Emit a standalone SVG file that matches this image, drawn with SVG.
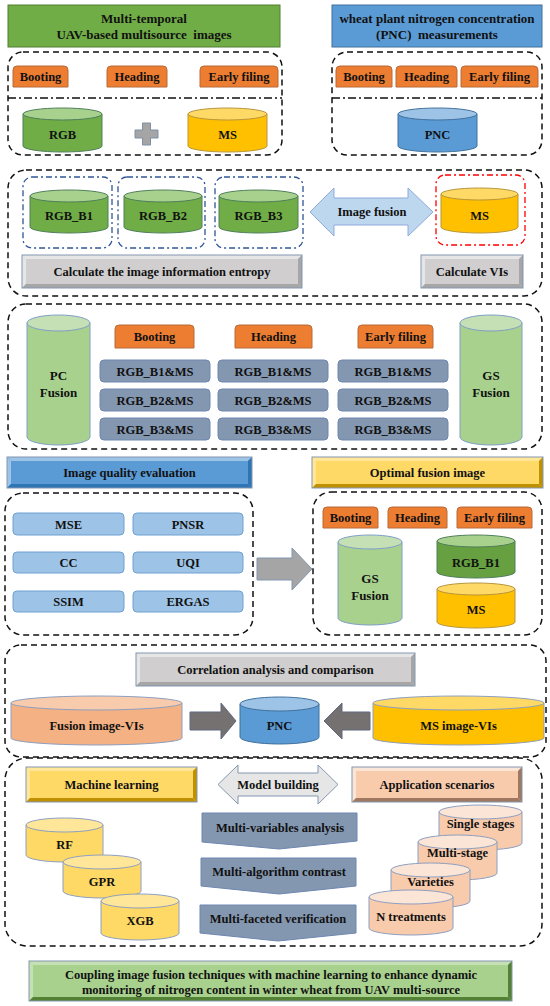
<svg xmlns="http://www.w3.org/2000/svg" width="550" height="1006" viewBox="0 0 550 1006">
<style>
text{font-family:"Liberation Serif","Times New Roman",serif;font-weight:bold;font-size:12.5px;fill:#111;text-anchor:middle}
.t13{font-size:13px}
.pre{white-space:pre}
.dash{fill:none;stroke:#111;stroke-width:1.5;stroke-dasharray:6 4}
.dd{fill:none;stroke:#111;stroke-width:1.5;stroke-dasharray:8 3 2 3}
.bdd{fill:none;stroke:#2F5597;stroke-width:1.3;stroke-dasharray:6 3 2 3}
.rdd{fill:none;stroke:#FF0000;stroke-width:1.3;stroke-dasharray:6 3 2 3}
.org{fill:#ED7D31;stroke:#B86A3A;stroke-width:1}
.stl{fill:#8497B0;stroke:#6E86B0;stroke-width:1}
.met{fill:#9DC3E6;stroke:#6FA0D2;stroke-width:1}
.gB{fill:#70AD47;stroke:#4F7F5A;stroke-width:1}
.gT{fill:#A9D18E;stroke:#4F7F5A;stroke-width:1}
.yB{fill:#FFC000;stroke:#B8963A;stroke-width:1}
.yT{fill:#FFD966;stroke:#B8963A;stroke-width:1}
.bB{fill:#5B9BD5;stroke:#41719C;stroke-width:1}
.bT{fill:#9DC3E6;stroke:#41719C;stroke-width:1}
.lgB{fill:#A9D18E;stroke:#7F9FC8;stroke-width:1}
.lgT{fill:#C5E0B4;stroke:#7F9FC8;stroke-width:1}
.pB{fill:#F8CBAD;stroke:#8E9FC0;stroke-width:1}
.pT{fill:#FBE5D6;stroke:#8E9FC0;stroke-width:1}
.oB{fill:#F4B183;stroke:#8E9FC0;stroke-width:1}
.oT{fill:#F8CBAD;stroke:#8E9FC0;stroke-width:1}
.lyB{fill:#FFD966;stroke:#8E9FC0;stroke-width:1}
.lyT{fill:#FFE699;stroke:#8E9FC0;stroke-width:1}
.gray .m{fill:#D0CECE}.gray .l{fill:#E7E6E6}.gray .d{fill:#A6A6A6}
.blue .m{fill:#5B9BD5}.blue .l{fill:#9DC3E6}.blue .d{fill:#2E75B6}
.yel .m{fill:#FFD966}.yel .l{fill:#FFE699}.yel .d{fill:#BF9000}
.pch .m{fill:#F8CBAD}.pch .l{fill:#FBE5D6}.pch .d{fill:#A0785F}
.grn .m{fill:#A9D18E}.grn .l{fill:#C5E0B4}.grn .d{fill:#548235}
.bev .o{fill:none;stroke:#8497B0;stroke-width:1}
.darr{fill:#767171;stroke:#5F6B80;stroke-width:1}
</style>

<!-- Titles -->
<g id="title-uav">
<rect x="8" y="5" width="272" height="42" fill="#70AD47" stroke="#507E32"/>
<text class="t13" x="144" y="23">Multi-temporal</text>
<text class="t13 pre" x="144" y="39">UAV-based multisource  images</text>
</g>
<g id="title-pnc">
<rect x="332" y="5" width="210" height="42" fill="#5B9BD5" stroke="#41719C"/>
<text class="t13" x="437" y="23">wheat plant nitrogen concentration</text>
<text class="t13 pre" x="437" y="39">(PNC)  measurements</text>
</g>

<!-- Top left group -->
<g id="uav-stages">
<rect class="dash" x="8" y="52" width="274" height="103" rx="15"/>
<line class="dd" x1="8" y1="98" x2="282" y2="98"/>
<path class="org" d="M13,87 V70 Q13,66 17,66 H64 Q68,66 68,70 V87 Z"/>
<text x="40.5" y="81">Booting</text>
<path class="org" d="M107,87 V70 Q107,66 111,66 H163 Q167,66 167,70 V87 Z"/>
<text x="137" y="81">Heading</text>
<path class="org" d="M200,87 V70 Q200,66 204,66 H274 Q278,66 278,70 V87 Z"/>
<text x="239" y="81">Early filing</text>
</g>
<g id="rgb">
<path class="gB" d="M23,114 V146 A39.5,6 0 0 0 102,146 V114 Z"/>
<ellipse class="gT" cx="62.5" cy="114" rx="39.5" ry="6"/>
<text x="62.5" y="139">RGB</text>
</g>
<g id="plus">
<polygon points="142.5,123 150.5,123 150.5,130 158,130 158,138 150.5,138 150.5,145 142.5,145 142.5,138 135,138 135,130 142.5,130" fill="#A5A5A5" stroke="#7F8FA9"/>
</g>
<g id="ms">
<path class="yB" d="M188,114 V146 A39.5,6 0 0 0 267,146 V114 Z"/>
<ellipse class="yT" cx="227.5" cy="114" rx="39.5" ry="6"/>
<text x="227.5" y="139">MS</text>
</g>

<!-- Top right group -->
<g id="pnc-stages">
<rect class="dash" x="332" y="52" width="210" height="103" rx="15"/>
<line class="dd" x1="332" y1="98" x2="542" y2="98"/>
<path class="org" d="M336,87 V70 Q336,66 340,66 H388 Q392,66 392,70 V87 Z"/>
<text x="364" y="81">Booting</text>
<path class="org" d="M396,87 V70 Q396,66 400,66 H453 Q457,66 457,70 V87 Z"/>
<text x="426.5" y="81">Heading</text>
<path class="org" d="M461,87 V70 Q461,66 465,66 H534 Q538,66 538,70 V87 Z"/>
<text x="499.5" y="81">Early filing</text>
</g>
<g id="pnc">
<path class="bB" d="M398,114 V146 A39.5,6 0 0 0 477,146 V114 Z"/>
<ellipse class="bT" cx="437.5" cy="114" rx="39.5" ry="6"/>
<text x="437.5" y="139">PNC</text>
</g>

<!-- Section 2 -->
<g id="sec2">
<rect class="dash" x="8" y="170" width="534" height="126" rx="18"/>
</g>
<g id="rgb-b1">
<rect class="bdd" x="23" y="177" width="89" height="71" rx="9"/>
<path class="gB" d="M30,196 V227 A39,6 0 0 0 108,227 V196 Z"/>
<ellipse class="gT" cx="69" cy="196" rx="39" ry="6"/>
<text x="69" y="220">RGB_B1</text>
</g>
<g id="rgb-b2">
<rect class="bdd" x="118" y="177" width="87" height="71" rx="9"/>
<path class="gB" d="M124,196 V227 A39,6 0 0 0 202,227 V196 Z"/>
<ellipse class="gT" cx="163" cy="196" rx="39" ry="6"/>
<text x="163" y="220">RGB_B2</text>
</g>
<g id="rgb-b3">
<rect class="bdd" x="215" y="177" width="88" height="71" rx="9"/>
<path class="gB" d="M219,196 V227 A39.5,6 0 0 0 298,227 V196 Z"/>
<ellipse class="gT" cx="258.5" cy="196" rx="39.5" ry="6"/>
<text x="258.5" y="220">RGB_B3</text>
</g>
<g id="image-fusion">
<polygon points="310,212 334,188 334,198 408,198 408,188 433,212 408,236 408,225 334,225 334,236" fill="#BDD7EE" stroke="#8FAADC"/>
<text x="372" y="216">Image fusion</text>
</g>
<g id="ms2">
<rect class="rdd" x="436" y="175" width="89" height="70" rx="9"/>
<path class="yB" d="M441,194 V227 A38.5,6 0 0 0 518,227 V194 Z"/>
<ellipse class="yT" cx="479.5" cy="194" rx="38.5" ry="6"/>
<text x="479.5" y="220">MS</text>
</g>
<g id="calc-entropy" class="bev gray">
<rect class="m" x="22" y="255" width="280" height="33"/>
<polygon class="l" points="22,255 302,255 298,259 26,259"/>
<polygon class="l" points="22,255 26,259 26,284 22,288"/>
<polygon class="d" points="22,288 26,284 298,284 302,288"/>
<polygon class="d" points="302,255 302,288 298,284 298,259"/>
<rect class="o" x="22" y="255" width="280" height="33"/>
<text x="162" y="276">Calculate the image information entropy</text>
</g>
<g id="calc-vis" class="bev gray">
<rect class="m" x="421" y="255" width="102" height="33"/>
<polygon class="l" points="421,255 523,255 519,259 425,259"/>
<polygon class="l" points="421,255 425,259 425,284 421,288"/>
<polygon class="d" points="421,288 425,284 519,284 523,288"/>
<polygon class="d" points="523,255 523,288 519,284 519,259"/>
<rect class="o" x="421" y="255" width="102" height="33"/>
<text x="472" y="276">Calculate VIs</text>
</g>

<!-- Section 3 -->
<g id="sec3">
<rect class="dash" x="8" y="304" width="534" height="145" rx="18"/>
</g>
<g id="pc-fusion">
<path class="lgB" d="M27,323 V437 A31.5,8 0 0 0 90,437 V323 Z"/>
<ellipse class="lgT" cx="58.5" cy="323" rx="31.5" ry="8"/>
<text class="t13" x="58.5" y="380">PC</text>
<text class="t13" x="58.5" y="397">Fusion</text>
</g>
<g id="gs-fusion">
<path class="lgB" d="M460,323 V437 A31,8 0 0 0 522,437 V323 Z"/>
<ellipse class="lgT" cx="491" cy="323" rx="31" ry="8"/>
<text class="t13" x="491" y="380">GS</text>
<text class="t13" x="491" y="397">Fusion</text>
</g>
<g id="combo-booting">
<path class="org" d="M115,348 V329 Q115,325 119,325 H190 Q194,325 194,329 V348 Z"/>
<text x="154.5" y="341">Booting</text>
<rect class="stl" x="100" y="360" width="110" height="22" rx="4"/>
<text x="155" y="375.5">RGB_B1&amp;MS</text>
<rect class="stl" x="100" y="389" width="110" height="22" rx="4"/>
<text x="155" y="404.5">RGB_B2&amp;MS</text>
<rect class="stl" x="100" y="418" width="110" height="22" rx="4"/>
<text x="155" y="433.5">RGB_B3&amp;MS</text>
</g>
<g id="combo-heading">
<path class="org" d="M235,348 V329 Q235,325 239,325 H308 Q312,325 312,329 V348 Z"/>
<text x="273.5" y="341">Heading</text>
<rect class="stl" x="218" y="360" width="110" height="22" rx="4"/>
<text x="273" y="375.5">RGB_B1&amp;MS</text>
<rect class="stl" x="218" y="389" width="110" height="22" rx="4"/>
<text x="273" y="404.5">RGB_B2&amp;MS</text>
<rect class="stl" x="218" y="418" width="110" height="22" rx="4"/>
<text x="273" y="433.5">RGB_B3&amp;MS</text>
</g>
<g id="combo-early">
<path class="org" d="M358,348 V329 Q358,325 362,325 H429 Q433,325 433,329 V348 Z"/>
<text x="395.5" y="341">Early filing</text>
<rect class="stl" x="338" y="360" width="110" height="22" rx="4"/>
<text x="393" y="375.5">RGB_B1&amp;MS</text>
<rect class="stl" x="338" y="389" width="110" height="22" rx="4"/>
<text x="393" y="404.5">RGB_B2&amp;MS</text>
<rect class="stl" x="338" y="418" width="110" height="22" rx="4"/>
<text x="393" y="433.5">RGB_B3&amp;MS</text>
</g>

<!-- Section 4 -->
<g id="quality-eval" class="bev blue">
<rect class="m" x="7" y="457" width="245" height="31"/>
<polygon class="l" points="7,457 252,457 248,461 11,461"/>
<polygon class="l" points="7,457 11,461 11,484 7,488"/>
<polygon class="d" points="7,488 11,484 248,484 252,488"/>
<polygon class="d" points="252,457 252,488 248,484 248,461"/>
<rect class="o" x="7" y="457" width="245" height="31"/>
<text x="129.5" y="477">Image quality evaluation</text>
</g>
<g id="optimal" class="bev yel">
<rect class="m" x="312" y="457" width="231" height="31"/>
<polygon class="l" points="312,457 543,457 539,461 316,461"/>
<polygon class="l" points="312,457 316,461 316,484 312,488"/>
<polygon class="d" points="312,488 316,484 539,484 543,488"/>
<polygon class="d" points="543,457 543,488 539,484 539,461"/>
<rect class="o" x="312" y="457" width="231" height="31"/>
<text x="427.5" y="477">Optimal fusion image</text>
</g>
<g id="metrics">
<rect class="dash" x="5" y="493" width="248" height="142" rx="18"/>
<rect class="met" x="13" y="513" width="111" height="22" rx="4"/>
<text x="68.5" y="528.5">MSE</text>
<rect class="met" x="133" y="513" width="110" height="22" rx="4"/>
<text x="188" y="528.5">PNSR</text>
<rect class="met" x="13" y="552" width="111" height="21" rx="4"/>
<text x="68.5" y="567">CC</text>
<rect class="met" x="133" y="552" width="110" height="21" rx="4"/>
<text x="188" y="567">UQI</text>
<rect class="met" x="13" y="591" width="111" height="21" rx="4"/>
<text x="68.5" y="606">SSIM</text>
<rect class="met" x="133" y="591" width="110" height="21" rx="4"/>
<text x="188" y="606">ERGAS</text>
</g>
<g id="optimal-set">
<rect class="dash" x="313" y="492" width="229" height="143" rx="18"/>
<path class="org" d="M323,528 V511 Q323,507 327,507 H374 Q378,507 378,511 V528 Z"/>
<text x="350.5" y="522">Booting</text>
<path class="org" d="M388,528 V511 Q388,507 392,507 H443 Q447,507 447,511 V528 Z"/>
<text x="417.5" y="522">Heading</text>
<path class="org" d="M457,528 V511 Q457,507 461,507 H528 Q532,507 532,511 V528 Z"/>
<text x="494.5" y="522">Early filing</text>
<path class="lgB" d="M338,542 V618 A32,7 0 0 0 402,618 V542 Z"/>
<ellipse class="lgT" cx="370" cy="542" rx="32" ry="7"/>
<text class="t13" x="370" y="583">GS</text>
<text class="t13" x="370" y="600">Fusion</text>
<path class="gB" d="M437,541 V572 A39,6 0 0 0 515,572 V541 Z" style="fill:#66A040"/>
<ellipse class="gT" cx="476" cy="541" rx="39" ry="6"/>
<text x="476" y="567">RGB_B1</text>
<path class="yB" d="M437,589 V622 A39,6 0 0 0 515,622 V589 Z"/>
<ellipse class="yT" cx="476" cy="589" rx="39" ry="6"/>
<text x="476" y="614">MS</text>
</g>

<!-- Section 5 -->
<g id="sec5">
<rect class="dash" x="5" y="645" width="541" height="112" rx="16"/>
</g>
<g id="correlation" class="bev gray">
<rect class="m" x="136" y="653" width="279" height="33"/>
<polygon class="l" points="136,653 415,653 411,657 140,657"/>
<polygon class="l" points="136,653 140,657 140,682 136,686"/>
<polygon class="d" points="136,686 140,682 411,682 415,686"/>
<polygon class="d" points="415,653 415,686 411,682 411,657"/>
<rect class="o" x="136" y="653" width="279" height="33"/>
<text x="275.5" y="674">Correlation analysis and comparison</text>
</g>
<g id="fusion-vis">
<path class="oB" d="M11,703 V738 A85.5,7 0 0 0 182,738 V703 Z"/>
<ellipse class="oT" cx="96.5" cy="703" rx="85.5" ry="7"/>
<text x="96.5" y="730">Fusion image-VIs</text>
</g>
<g id="pnc2">
<path class="bB" d="M240,704 V737 A39.5,7 0 0 0 319,737 V704 Z"/>
<ellipse class="bT" cx="279.5" cy="704" rx="39.5" ry="7"/>
<text x="279.5" y="730">PNC</text>
</g>
<g id="ms-vis">
<path class="yB" d="M373,703 V738 A85.5,7 0 0 0 544,738 V703 Z" style="stroke:#8E9FC0"/>
<ellipse class="yT" cx="458.5" cy="703" rx="85.5" ry="7" style="stroke:#8E9FC0"/>
<text x="458.5" y="730">MS image-VIs</text>
</g>

<!-- Section 6 -->
<g id="sec6">
<rect class="dash" x="5" y="758" width="537" height="188" rx="22"/>
</g>
<g id="machine-learning" class="bev yel">
<rect class="m" x="26" y="767" width="171" height="35"/>
<polygon class="l" points="26,767 197,767 193,771 30,771"/>
<polygon class="l" points="26,767 30,771 30,798 26,802"/>
<polygon class="d" points="26,802 30,798 193,798 197,802"/>
<polygon class="d" points="197,767 197,802 193,798 193,771"/>
<rect class="o" x="26" y="767" width="171" height="35"/>
<text x="111.5" y="789">Machine learning</text>
</g>
<g id="model-building">
<polygon points="218,784.5 238,765 238,773 318,773 318,765 338,784.5 318,804 318,796 238,796 238,804" fill="#E7E6E6" stroke="#8497B0"/>
<text x="278" y="789">Model building</text>
</g>
<g id="application" class="bev pch">
<rect class="m" x="352" y="767" width="170" height="35"/>
<polygon class="l" points="352,767 522,767 518,771 356,771"/>
<polygon class="l" points="352,767 356,771 356,798 352,802"/>
<polygon class="d" points="352,802 356,798 518,798 522,802"/>
<polygon class="d" points="522,767 522,802 518,798 518,771"/>
<rect class="o" x="352" y="767" width="170" height="35"/>
<text x="437" y="789">Application scenarios</text>
</g>
<g id="rf">
<path class="lyB" d="M26,825 V855 A38.5,7 0 0 0 103,855 V825 Z"/>
<ellipse class="lyT" cx="64.5" cy="825" rx="38.5" ry="7"/>
<text x="64.5" y="849">RF</text>
</g>
<g id="gpr">
<path class="lyB" d="M63,862 V891 A39,7 0 0 0 141,891 V862 Z"/>
<ellipse class="lyT" cx="102" cy="862" rx="39" ry="7"/>
<text x="102" y="886">GPR</text>
</g>
<g id="xgb">
<path class="lyB" d="M101,901 V933 A39,7 0 0 0 179,933 V901 Z"/>
<ellipse class="lyT" cx="140" cy="901" rx="39" ry="7"/>
<text x="140" y="925">XGB</text>
</g>
<g id="multi-variables">
<polygon class="stl" points="202,813 357,813 357,841 279,849 202,842"/>
<text x="280" y="832">Multi-variables analysis</text>
</g>
<g id="multi-algorithm">
<polygon class="stl" points="201,858 356,858 356,886 279,894 201,886"/>
<text x="279" y="876">Multi-algorithm contrast</text>
</g>
<g id="multi-faceted">
<polygon class="stl" points="200,905 356,905 356,933 278,941 200,933"/>
<text x="278" y="923">Multi-faceted verification</text>
</g>
<g id="single-stages">
<path class="pB" d="M439,812 V843 A41.5,7 0 0 0 522,843 V812 Z"/>
<ellipse class="pT" cx="480.5" cy="812" rx="41.5" ry="7"/>
<text x="480.5" y="828">Single stages</text>
</g>
<g id="multi-stage">
<path class="pB" d="M418,842 V873 A39.5,7 0 0 0 497,873 V842 Z"/>
<ellipse class="pT" cx="457.5" cy="842" rx="39.5" ry="7"/>
<text x="457.5" y="857">Multi-stage</text>
</g>
<g id="varieties">
<path class="pB" d="M391,870 V901 A39.5,7 0 0 0 470,901 V870 Z"/>
<ellipse class="pT" cx="430.5" cy="870" rx="39.5" ry="7"/>
<text x="430.5" y="886">Varieties</text>
</g>
<g id="n-treatments">
<path class="pB" d="M369,897 V928 A42,7 0 0 0 453,928 V897 Z"/>
<ellipse class="pT" cx="411" cy="897" rx="42" ry="7"/>
<text x="411" y="921">N treatments</text>
</g>

<!-- Bottom -->
<g id="conclusion" class="bev grn">
<rect class="m" x="29" y="961" width="483" height="40"/>
<polygon class="l" points="29,961 512,961 508,965 33,965"/>
<polygon class="l" points="29,961 33,965 33,997 29,1001"/>
<polygon class="d" points="29,1001 33,997 508,997 512,1001"/>
<polygon class="d" points="512,961 512,1001 508,997 508,965"/>
<rect class="o" x="29" y="961" width="483" height="40"/>
<text x="271" y="979">Coupling image fusion techniques with machine learning to enhance dynamic</text>
<text x="271" y="994">monitoring of nitrogen content in winter wheat from UAV multi-source</text>
</g>

<!-- Connectors -->
<g id="connectors">
<polygon points="257,558 292,558 292,548 312,569 292,590 292,580 257,580" fill="#A5A5A5" stroke="#8497B0"/>
<polygon class="darr" points="190,712 221,712 221,703 236,721 221,739 221,730 190,730"/>
<polygon class="darr" points="370,712 342,712 342,703 324,721 342,739 342,730 370,730"/>
</g>
</svg>
